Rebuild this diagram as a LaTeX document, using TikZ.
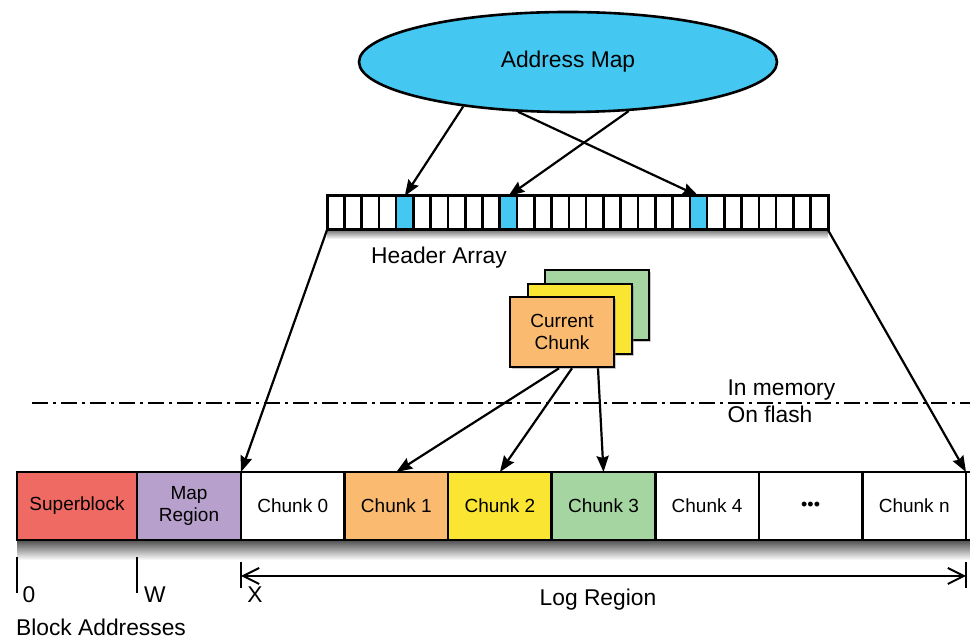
\documentclass[tikz,border=0pt]{standalone}
\usepackage{fontspec}
\setmainfont{Liberation Sans}
\usetikzlibrary{arrows.meta,positioning,shapes.geometric,shadows}
\definecolor{mapblue}{RGB}{68,200,242}
\definecolor{superred}{RGB}{240,106,100}
\definecolor{mappurple}{RGB}{184,160,204}
\definecolor{chunkorange}{RGB}{250,187,112}
\definecolor{chunkyellow}{RGB}{250,230,50}
\definecolor{chunkgreen}{RGB}{165,213,160}

\begin{document}
\begin{tikzpicture}[
  x=1pt, y=1pt,
  font=\fontsize{22.8}{26}\selectfont,
  cell/.style={draw, line width=2.6pt, fill=white, minimum width=103.57pt, minimum height=68pt, inner sep=0pt, outer sep=0pt, align=center, font=\fontsize{19}{22}\selectfont},
  hcell/.style={draw, line width=2.6pt, minimum width=17.276pt, minimum height=34pt, inner sep=0pt, outer sep=0pt},
  card/.style={draw, line width=2.6pt, minimum width=104pt, minimum height=70pt, align=center, font=\fontsize{19}{22.5}\selectfont, drop shadow={shadow xshift=1.5pt, shadow yshift=-2pt, opacity=0.45}},
  arrow/.style={-{Stealth[length=16pt,width=12pt,inset=2pt]}, line width=2.2pt},
  addrtick/.style={line width=2pt},
  logarrow/.style={{Straight Barb[length=16pt,width=16pt]}-{Straight Barb[length=16pt,width=16pt]}, line width=2pt}
]
\useasboundingbox (0,0) rectangle (970,639);

\node[ellipse, draw, line width=2.6pt, fill=mapblue, minimum width=418pt, minimum height=100pt] (addrmap) at (568,577) {Address Map};

\foreach \i in {0,...,28}{
  \def\cellcol{white}
  \ifnum\i=4 \def\cellcol{mapblue}\fi
  \ifnum\i=10 \def\cellcol{mapblue}\fi
  \ifnum\i=21 \def\cellcol{mapblue}\fi
  \node[hcell, fill=\cellcol] (h\i) at ({327+17.276*(\i+0.5)},426) {};
}
\draw[line width=3pt] (h0.south west) rectangle (h28.north east);
\shade[top color=black!45, bottom color=white] ([yshift=-1.5pt]h0.south west) rectangle ([yshift=-9pt]h28.south east);
\node[anchor=base] (hdrlabel) at (439,375) {Header Array};

\draw[arrow] (addrmap.203) -- (h4.north);
\draw[arrow] (addrmap.321) -- (h10.north);
\draw[arrow] (addrmap.225) -- (h21.north);

\node[card, fill=chunkgreen] (cardback) at (597,334) {};
\node[card, fill=chunkyellow] (cardmid) at (580,320) {};
\node[card, fill=chunkorange] (cur) at (562,307) {Current\\Chunk};

\coordinate (memL) at (32,236);
\coordinate (memR) at (970,236);
\draw[line width=2.2pt, dash pattern=on 16pt off 5pt on 3pt off 5pt] (memL) -- (memR);
\node[anchor=base west] (inmem) at (724,243) {In memory};
\node[anchor=base west] (onflash) at (724,216) {On flash};

\node[cell, fill=superred, minimum width=120pt] (super) at (77,133) {Superblock};
\node[cell, fill=mappurple, minimum width=104pt, right=0pt of super] (mapreg) {Map\\Region};
\node[cell, right=0pt of mapreg] (c0) {Chunk 0};
\node[cell, fill=chunkorange, right=0pt of c0] (c1) {Chunk 1};
\node[cell, fill=chunkyellow, right=0pt of c1] (c2) {Chunk 2};
\node[cell, fill=chunkgreen, right=0pt of c2] (c3) {Chunk 3};
\node[cell, right=0pt of c3] (c4) {Chunk 4};
\node[cell, right=0pt of c4] (cdots) {{\fontsize{18}{18}\selectfont •••}};
\node[cell, right=0pt of cdots] (cn) {Chunk n};
\node[cell, right=0pt of cn] (cnext) {};
\shade[top color=black!65, bottom color=white] ([yshift=-1.3pt]super.south west) rectangle ([yshift=-20pt]cnext.south east);

\draw[arrow] (h0.south west) -- (c0.north west);
\draw[arrow] (h28.south east) -- (cn.north east);
\draw[arrow] ([xshift=-3pt]cur.south) -- (c1.north);
\draw[arrow] ([xshift=10pt]cur.south) -- (c2.north);
\draw[arrow] ([xshift=36pt]cur.south) -- (c3.north);

\draw[addrtick] ([yshift=-17pt]super.south west) -- ++(0,-36);
\draw[addrtick] ([yshift=-17pt]mapreg.south west) -- ++(0,-36);
\draw[addrtick] ([yshift=-22pt]c0.south west) -- ++(0,-26);
\draw[addrtick] ([yshift=-22pt]cn.south east) -- ++(0,-26);
\draw[logarrow] ([yshift=-36pt]c0.south west) -- ([yshift=-36pt]cn.south east);

\node (addr0) at (29,44) {0};
\node (addrW) at (155,44) {W};
\node (addrX) at (255,44) {X};
\node[anchor=base] (logreg) at (598,33) {Log Region};
\node (blockaddr) at (101,12) {Block Addresses};
\end{tikzpicture}
\end{document}
